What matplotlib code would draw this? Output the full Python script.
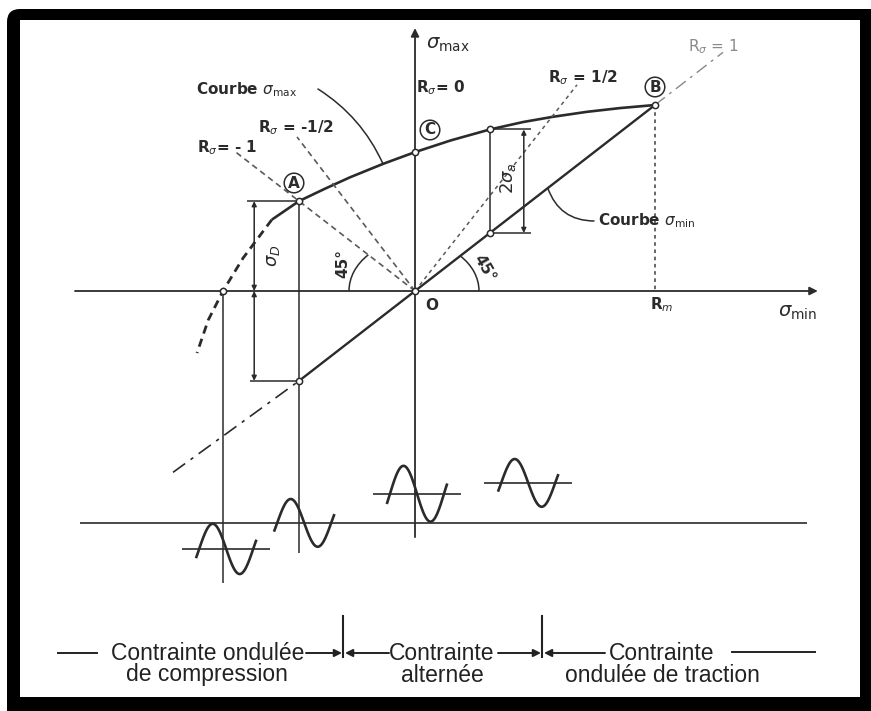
import matplotlib
matplotlib.use("Agg")
import matplotlib.pyplot as plt
import matplotlib.transforms as mtransforms
from matplotlib.patches import FancyBboxPatch, Rectangle, Arc
import numpy as np

plt.rcParams['font.family'] = ['DejaVu Sans']
plt.rcParams['mathtext.fontset'] = 'dejavusans'

# --- valeurs du diagramme (unites de contrainte, Rm = 600) ---
RM = 600
SIGMA_D = 290
SIGMA_C = 448
# courbe sigma max (partie pleine)
curve_max_x = [-358, -290, -225, -162, -80, 0, 90, 187, 270, 345, 430, 512, 600]
curve_max_y = [230, 290, 330, 367, 410, 448, 486, 521, 545, 562, 578, 590, 600]
# prolongement en tirets
curve_dash_x = [-358, -430, -480, -517, -545]
curve_dash_y = [230, 106, 0, -94, -200]
# point intermediaire (mesure de 2 sigma a)
P_X = 187
P_MAX = 521
# rayons R = -1, -1/2, 1/2 (extremites)
ray_x = [-450, -295, 405]
ray_y = [450, 497, 665]
# droite R = 1 prolongee
r1_up = (770, 770)
r1_down = (-605, -585)

# petits cycles de contrainte sous le diagramme
wave_x = [-472, -277, 5, 283]
wave_mean = [-84, 0, 94, 129]
wave_amp = [81, 77, 90, 77]
wave_axis = [True, False, True, True]
BASE = -748

INK = '#2b2b2b'
GREY = '#5a5a5a'

fig = plt.figure(figsize=(8.71, 7.11), dpi=100)
ax = fig.add_axes([0, 0, 1, 1])
ax.set_xlim(0, 871)
ax.set_ylim(711, 0)
ax.axis('off')

# cadre noir
ax.add_patch(FancyBboxPatch((7, 9), 900, 740, boxstyle="round,pad=0,rounding_size=13",
                            fc='black', ec='none', zorder=0))
ax.add_patch(Rectangle((20, 20), 840, 677, fc='white', ec='none', zorder=0.5))

# repere contrainte -> pixels
stress = mtransforms.Affine2D().scale(0.4, -0.31).translate(415, 291) + ax.transData
px = ax.transData

def line(xs, ys, **kw):
    kw.setdefault('color', INK)
    kw.setdefault('lw', 1.2)
    ax.plot(xs, ys, transform=stress, solid_capstyle='butt', **kw)

def arrow(p0, p1, style='-|>', lw=1.2, ms=10, color=INK, coords=None):
    c = stress if coords is None else coords
    ax.annotate('', xy=p1, xycoords=c, xytext=p0, textcoords=c,
                arrowprops=dict(arrowstyle=style, lw=lw, color=color,
                                shrinkA=0, shrinkB=0, mutation_scale=ms))

# axes
arrow((-850, 0), (1007, 0), lw=1.3, ms=12)
arrow((0, -794), (0, 848), lw=1.3, ms=12)

# courbes
line(curve_max_x, curve_max_y, lw=1.9)
line(curve_dash_x, curve_dash_y, lw=2.0, ls=(0, (3, 2)))
line([-SIGMA_D, RM], [-SIGMA_D, RM], lw=1.7)
line([r1_down[0], -SIGMA_D], [r1_down[1], -SIGMA_D], lw=1.2, ls=(0, (9, 4, 2, 4)))
line([RM, r1_up[0]], [RM, r1_up[1]], lw=1.0, color='#888888', ls=(0, (9, 4, 2, 4)))

# rayons
line([0, ray_x[0]], [0, ray_y[0]], lw=1.2, color=GREY, ls=(0, (3.5, 2.5)))
line([0, ray_x[1]], [0, ray_y[1]], lw=1.2, color=GREY, ls=(0, (3.5, 2.5)))
line([0, ray_x[2]], [0, ray_y[2]], lw=1.1, color=GREY, ls=(0, (2.5, 2.5)))

# verticales
line([-480, -480], [0, -942], lw=1.1)
line([-SIGMA_D, -SIGMA_D], [SIGMA_D, -845], lw=1.1)
line([RM, RM], [RM, 0], lw=1.3, color=GREY, ls=(0, (2, 2)))
line([P_X, P_X], [P_X, P_MAX], lw=1.1)

# cote sigma D
line([-420, -SIGMA_D], [SIGMA_D, SIGMA_D], lw=1.1)
line([-412, -SIGMA_D], [-SIGMA_D, -SIGMA_D], lw=1.1)
arrow((-402, 0), (-402, SIGMA_D), style='<|-|>', lw=1.1, ms=7)
arrow((-402, 0), (-402, -SIGMA_D), style='<|-|>', lw=1.1, ms=7)

# cote 2 sigma a
line([P_X, 290], [P_MAX, P_MAX], lw=1.1)
line([P_X, 290], [P_X, P_X], lw=1.1)
arrow((272, P_X), (272, P_MAX), style='<|-|>', lw=1.1, ms=7)

# angles 45
ax.add_patch(Arc((0, 0), 330, 330, theta1=135, theta2=180, transform=stress,
                 color=INK, lw=1.1))
ax.add_patch(Arc((0, 0), 320, 320, theta1=0, theta2=45, transform=stress,
                 color=INK, lw=1.1))

# points
pts_x = [-SIGMA_D, 0, P_X, RM, -SIGMA_D, P_X, 0, -480]
pts_y = [SIGMA_D, SIGMA_C, P_MAX, RM, -SIGMA_D, P_X, 0, 0]
ax.plot(pts_x, pts_y, 'o', ms=4.5, mfc='white', mec=INK, mew=1.1,
        transform=stress, zorder=5)

# cycles
BASE_X = [-837, 980]
line(BASE_X, [BASE, BASE], lw=1.2)
t = np.linspace(-0.06, 1.06, 80)
for cx, m, a, has_axis in zip(wave_x, wave_mean, wave_amp, wave_axis):
    if has_axis:
        line([cx - 110, cx + 110], [BASE + m, BASE + m], lw=1.2)
    line(cx + (t - 0.5) * 135, BASE + m + a * np.sin(2 * np.pi * t), lw=1.9)

# textes du diagramme
tk = dict(color=INK, fontsize=11, fontweight='bold')
ax.text(426, 44, r'$\sigma_{\rm max}$', fontsize=14, color=INK, va='center')
ax.text(797, 312, r'$\sigma_{\rm min}$', fontsize=14, color=INK, va='center', ha='center')
ax.text(416, 88, r'R$_\sigma$= 0', va='center', **tk)
ax.text(258, 128, r'R$_\sigma$ = -1/2', va='center', **tk)
ax.text(197, 148, r'R$_\sigma$= - 1', va='center', **tk)
ax.text(548, 78, r'R$_\sigma$ = 1/2', va='center', **tk)
ax.text(688, 47, r'R$_\sigma$ = 1', va='center', color='#8a8a8a', fontsize=11)
ax.text(196, 90, r'Courbe $\sigma_{\rm max}$', va='center', **tk)
ax.text(598, 221, r'Courbe $\sigma_{\rm min}$', va='center', **tk)
ax.text(425, 305, 'O', va='center', **tk)
ax.text(662, 305, r'R$_m$', va='center', ha='center', **tk)
ax.text(273, 256, r'$\sigma_D$', va='center', ha='center', rotation=90,
        fontsize=13, color=INK)
ax.text(508, 178, r'2$\sigma_a$', va='center', ha='center', rotation=90,
        fontsize=13, color=INK)
ax.text(343, 264, '45°', va='center', ha='center', rotation=90, **tk)
ax.text(484, 268, '45°', va='center', ha='center', rotation=-60, **tk)
circ = dict(boxstyle='circle,pad=0.15', fc='white', ec=INK, lw=1.1)
ax.text(294, 183, 'A', ha='center', va='center', bbox=circ, **tk)
ax.text(430, 130, 'C', ha='center', va='center', bbox=circ, **tk)
ax.text(655, 87, 'B', ha='center', va='center', bbox=circ, **tk)

# renvois
ax.annotate('', xy=(-80, 410), xycoords=stress, xytext=(318, 89), textcoords=px,
            arrowprops=dict(arrowstyle='-', lw=1.1, color=INK, shrinkA=0, shrinkB=0,
                            connectionstyle='arc3,rad=-0.15'))
ax.annotate('', xy=(332, 332), xycoords=stress, xytext=(594, 221), textcoords=px,
            arrowprops=dict(arrowstyle='-', lw=1.1, color=INK, shrinkA=0, shrinkB=0,
                            connectionstyle='arc3,rad=-0.35'))

# legende du bas
bt = dict(fontsize=16.5, color='#222222', ha='center', va='center',
          family=['Liberation Sans', 'DejaVu Sans'])
ax.text(208, 653, 'Contrainte ondulée', **bt)
ax.text(207, 675, 'de compression', **bt)
ax.text(442, 653, 'Contrainte', **bt)
ax.text(442, 675, 'alternée', **bt)
ax.text(662, 653, 'Contrainte', **bt)
ax.text(662, 675, 'ondulée de traction', **bt)
ax.plot([58, 97], [653, 653], color='#222222', lw=1.4)
ax.plot([732, 815], [652, 652], color='#222222', lw=1.4)
for xt in (343, 542):
    ax.plot([xt, xt], [616, 657], color='#222222', lw=1.5)
arrow((306, 653), (342, 653), lw=1.4, ms=11, color='#222222', coords=px)
arrow((389, 653), (345, 653), lw=1.4, ms=11, color='#222222', coords=px)
arrow((498, 653), (541, 653), lw=1.4, ms=11, color='#222222', coords=px)
arrow((605, 653), (544, 653), lw=1.4, ms=11, color='#222222', coords=px)

fig.savefig('out.png', dpi=100)
